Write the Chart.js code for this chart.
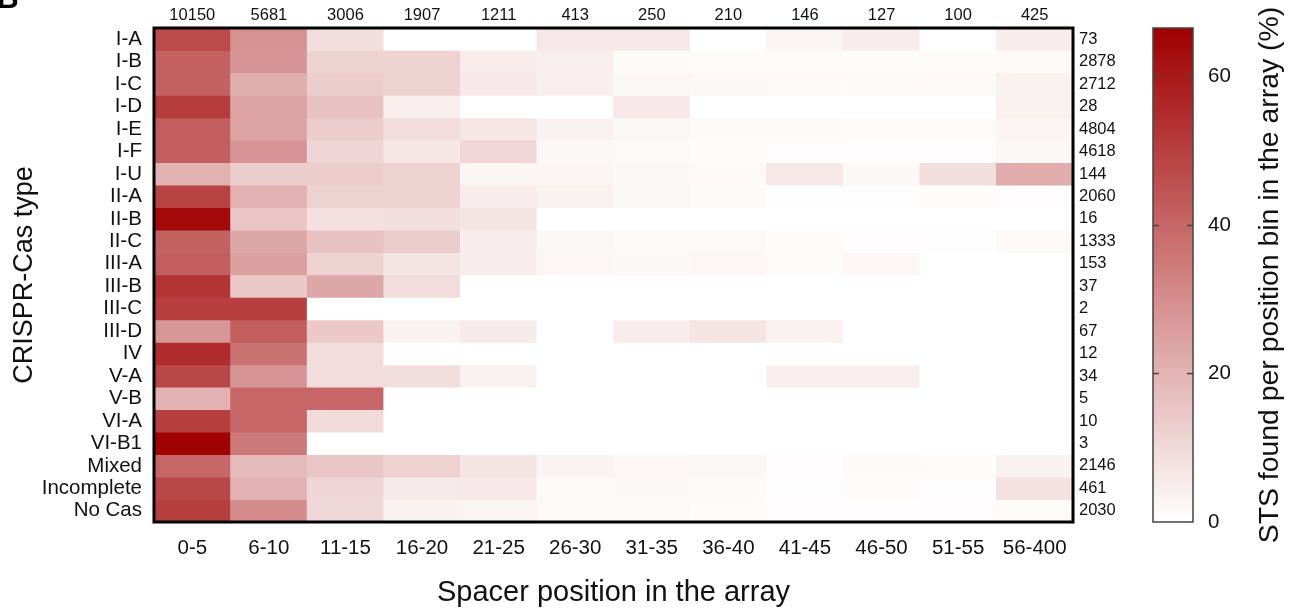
<!DOCTYPE html>
<html>
<head>
<meta charset="utf-8">
<script src="https://cdn.jsdelivr.net/npm/chart.js@4.4.1/dist/chart.umd.min.js"></script>
<style>
  html, body { margin: 0; padding: 0; background: #fff; }
  #wrap { position: relative; width: 1292px; height: 610px; }
</style>
</head>
<body>
<div id="wrap"><canvas id="heat" width="1292" height="610"></canvas></div>
<script>
// spacer position bins (columns) and number of spacers in each bin
const binLabels = ["0-5", "6-10", "11-15", "16-20", "21-25", "26-30", "31-35", "36-40", "41-45", "46-50", "51-55", "56-400"];
const binTotals = ["10150", "5681", "3006", "1907", "1211", "413", "250", "210", "146", "127", "100", "425"];

// CRISPR-Cas types (rows) and number of STS per type
const casTypes = ["I-A", "I-B", "I-C", "I-D", "I-E", "I-F", "I-U", "II-A", "II-B", "II-C", "III-A", "III-B", "III-C", "III-D", "IV", "V-A", "V-B", "VI-A", "VI-B1", "Mixed", "Incomplete", "No Cas"];
const typeTotals = ["73", "2878", "2712", "28", "4804", "4618", "144", "2060", "16", "1333", "153", "37", "2", "67", "12", "34", "5", "10", "3", "2146", "461", "2030"];

// % of STS found per position bin, one row per type
const stsPct = [
  [47, 28.6, 8.6, 0, 0, 6, 6, 0, 2.9, 5, 0, 5],          // I-A
  [41, 28, 11.7, 12, 5, 4.4, 1.3, 1, 1, 1, 1, 1.5],      // I-B
  [41, 21, 13, 12, 5.7, 4.4, 2, 1.8, 1.5, 1.3, 1.5, 3.9], // I-C
  [51, 24, 16, 4.4, 0, 0, 5.7, 0, 0, 0, 0, 3.9],          // I-D
  [42, 24, 13, 9, 6.5, 3.4, 2, 1.3, 1.3, 1, 1, 2.9],      // I-E
  [42, 28, 11, 6.5, 10.7, 1.8, 1.5, 1, 0.8, 0.8, 0.8, 2], // I-F
  [20, 13, 13, 12, 2.6, 2.6, 1.8, 1.5, 6, 1.8, 8.6, 21.6],// I-U
  [49, 20, 12, 12, 5.2, 3.9, 2, 1.3, 0.5, 0.5, 1, 0.8],   // II-A
  [64, 15, 8, 8.6, 7, 0, 0, 0, 0, 0, 0, 0],               // II-B
  [41, 23, 16, 13, 5, 2, 1.5, 1.5, 1, 0.8, 0.5, 1.5],     // II-C
  [42, 25, 12, 7, 5, 2.3, 1.8, 2.3, 1, 2.3, 0, 0],        // III-A
  [53, 14, 23, 9, 0, 0, 0, 0, 0, 0, 0, 0],                // III-B
  [50, 50, 0, 0, 0, 0, 0, 0, 0, 0, 0, 0],                 // III-C
  [27, 42, 14, 3.4, 5.5, 0, 5, 7, 3.6, 0, 0, 0],          // III-D
  [55, 37, 9, 0, 0, 0, 0, 0, 0, 0, 0, 0],                 // IV
  [48, 28, 9, 8.6, 4, 0, 0, 0, 4.4, 4.4, 0, 0],           // V-A
  [20, 40, 40, 0, 0, 0, 0, 0, 0, 0, 0, 0],                // V-B
  [50, 40, 9.6, 0, 0, 0, 0, 0, 0, 0, 0, 0],               // VI-A
  [66, 35, 0, 0, 0, 0, 0, 0, 0, 0, 0, 0],                 // VI-B1
  [40, 18, 15, 12, 7, 3, 2.3, 2, 0.8, 1.5, 1, 3.6],       // Mixed
  [48, 20, 11, 5.5, 6, 1.5, 1.8, 1.5, 0.5, 1, 0.5, 7.5],  // Incomplete
  [50, 30, 10.4, 3.4, 2.9, 1.5, 1.5, 1, 0.8, 0.8, 0.8, 1] // No Cas
];

const colorMax = 66.5;
const colorTicks = [0, 20, 40, 60];
const topRed = [160, 0, 0];

function cellColor(v) {
  const t = Math.max(0, Math.min(v / colorMax, 1));
  const r = Math.round(255 - t * (255 - topRed[0]));
  const g = Math.round(255 - t * (255 - topRed[1]));
  const b = Math.round(255 - t * (255 - topRed[2]));
  return `rgb(${r},${g},${b})`;
}

const FONT = "'Liberation Sans', Arial, Helvetica, sans-serif";
const nRows = casTypes.length;

// one floating-bar dataset per row, each bar spans [row, row+1]
const datasets = casTypes.map((type, r) => ({
  label: type,
  data: binLabels.map(() => [r, r + 1]),
  backgroundColor: stsPct[r].map(cellColor),
  borderWidth: 0,
  grouped: false,
  barPercentage: 1,
  categoryPercentage: 1,
  xAxisID: "x",
  yAxisID: "y"
}));

const rowTicks = (scale) => {
  scale.ticks = casTypes.map((_, i) => ({ value: i + 0.5 }));
};

const frameAndColorbar = {
  id: "frameAndColorbar",
  afterDraw(chart) {
    const { ctx, chartArea } = chart;
    const cb = chart.scales.cb;
    ctx.save();

    // colour bar
    const x0 = cb.left + 10, x1 = cb.left + 50;
    const yTop = cb.getPixelForValue(colorMax);
    const yBot = cb.getPixelForValue(0);
    const grad = ctx.createLinearGradient(0, yBot, 0, yTop);
    grad.addColorStop(0, cellColor(0));
    grad.addColorStop(0.5, cellColor(colorMax / 2));
    grad.addColorStop(1, cellColor(colorMax));
    ctx.fillStyle = grad;
    ctx.fillRect(x0, yTop, x1 - x0, yBot - yTop);
    ctx.strokeStyle = "#444";
    ctx.lineWidth = 1.5;
    ctx.strokeRect(x0, yTop, x1 - x0, yBot - yTop);
    colorTicks.slice(1).forEach(v => {
      const y = Math.round(cb.getPixelForValue(v)) + 0.5;
      ctx.beginPath();
      ctx.moveTo(x0, y); ctx.lineTo(x0 + 6, y);
      ctx.moveTo(x1 - 6, y); ctx.lineTo(x1, y);
      ctx.stroke();
    });

    // colour bar title
    ctx.translate(1270, (yTop + yBot) / 2);
    ctx.rotate(-Math.PI / 2);
    ctx.fillStyle = "#111";
    ctx.font = `28.4px ${FONT}`;
    ctx.textAlign = "center";
    ctx.textBaseline = "middle";
    ctx.fillText("STS found per position bin in the array (%)", 0, 0);
    ctx.restore();

    // heat map frame
    ctx.save();
    ctx.strokeStyle = "#000";
    ctx.lineWidth = 3;
    ctx.strokeRect(chartArea.left, chartArea.top, chartArea.right - chartArea.left, chartArea.bottom - chartArea.top);

    // panel letter, cut off at the top edge as in the figure
    ctx.fillStyle = "#000";
    ctx.font = `bold 30px ${FONT}`;
    ctx.textBaseline = "alphabetic";
    ctx.fillText("B", -3, 8);
    ctx.restore();
  }
};

new Chart(document.getElementById("heat"), {
  type: "bar",
  data: { labels: binLabels, datasets: datasets },
  options: {
    responsive: false,
    devicePixelRatio: 1,
    animation: false,
    events: [],
    layout: { padding: 0 },
    plugins: { legend: { display: false }, tooltip: { enabled: false } },
    scales: {
      x: {
        type: "category",
        position: "bottom",
        offset: true,
        grid: { display: false, drawTicks: false },
        border: { display: false },
        ticks: { color: "#111", font: { family: FONT, size: 20.5 }, padding: 14, maxRotation: 0, autoSkip: false },
        title: { display: true, text: "Spacer position in the array", color: "#111", font: { family: FONT, size: 29 }, padding: { top: 0, bottom: 0 } },
        afterFit: (s) => { s.height = 88; }
      },
      x2: {
        type: "category",
        labels: binTotals,
        position: "top",
        offset: true,
        grid: { display: false, drawTicks: false },
        border: { display: false },
        ticks: { color: "#111", font: { family: FONT, size: 16.5 }, padding: 3, maxRotation: 0, autoSkip: false },
        afterFit: (s) => { s.height = 28; }
      },
      y: {
        type: "linear",
        position: "left",
        min: 0,
        max: nRows,
        reverse: true,
        grid: { display: false, drawTicks: false },
        border: { display: false },
        afterBuildTicks: rowTicks,
        ticks: {
          color: "#111", font: { family: FONT, size: 20.5 }, padding: 12, autoSkip: false,
          callback: (v, i) => casTypes[i]
        },
        title: { display: true, text: "CRISPR-Cas type", color: "#111", font: { family: FONT, size: 27 }, padding: { top: 8, bottom: 0 } },
        afterFit: (s) => { s.width = 154; }
      },
      y2: {
        type: "linear",
        position: "right",
        weight: 0,
        min: 0,
        max: nRows,
        reverse: true,
        grid: { display: false, drawTicks: false },
        border: { display: false },
        afterBuildTicks: rowTicks,
        ticks: {
          color: "#111", font: { family: FONT, size: 16.5 }, padding: 6, autoSkip: false,
          callback: (v, i) => typeTotals[i]
        },
        afterFit: (s) => { s.width = 70; }
      },
      cb: {
        type: "linear",
        position: "right",
        weight: 1,
        min: 0,
        max: colorMax,
        // tick length (not padding) pushes the labels past the bar, keeps the top padding small
        grid: { display: false, drawTicks: true, tickLength: 65 },
        border: { display: false },
        afterBuildTicks: (s) => { s.ticks = colorTicks.map(v => ({ value: v })); },
        ticks: { color: "#111", font: { family: FONT, size: 20.5 }, padding: 0 },
        afterFit: (s) => { s.width = 149; }
      }
    }
  },
  plugins: [frameAndColorbar]
});
</script>
</body>
</html>
